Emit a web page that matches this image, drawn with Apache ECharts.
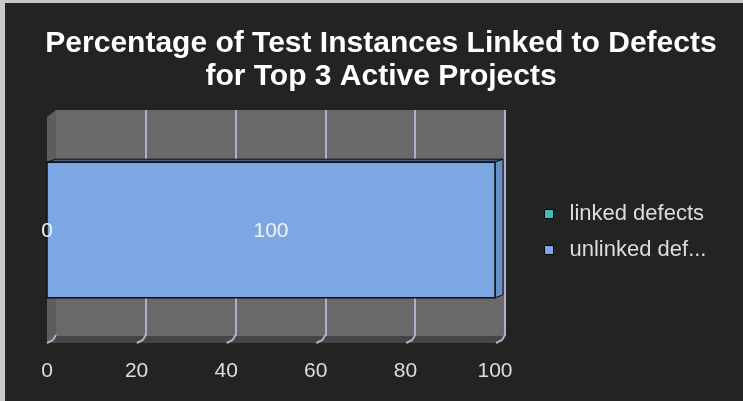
<!DOCTYPE html>
<html>
<head>
<meta charset="utf-8">
<style>
  html, body { margin: 0; padding: 0; background: #222422; }
  #chart { width: 743px; height: 401px; }
</style>
<script src="https://cdn.jsdelivr.net/npm/echarts@6/dist/echarts.min.js"></script>
</head>
<body>
<div id="chart"></div>
<script>
const titleText = 'Percentage of Test Instances Linked to Defects\nfor Top 3 Active Projects';
const categories = ['Top 3 Active Projects'];
const seriesNames = ['linked defects', 'unlinked defects'];
const linked = [0];
const unlinked = [100];
const xTicks = [0, 20, 40, 60, 80, 100];

const colors = ['#3fbfb5', '#7ba7e3'];
const sideColors = ['#339a92', '#6890c4'];
const topColors = ['#2a7a74', '#3d5a85'];
const font = 'Liberation Sans';

// 3D-ish layout: back wall and front plane, offset by depth
const back = { left: 56, top: 110, width: 449, height: 226 };
const depthX = 9, depthY = 7;
const front = { left: back.left - depthX, top: back.top + depthY, width: 448, height: back.height };

// stacked segments built from series values
const stacks = [linked, unlinked];
const segData = stacks.map(() => []);
categories.forEach((c, ci) => {
  let acc = 0;
  stacks.forEach((vals, si) => {
    segData[si].push([acc, acc + vals[ci], ci, vals[ci]]);
    acc += vals[ci];
  });
});

function barItem(si) {
  return function (params, api) {
    const p0 = api.coord([api.value(0), api.value(2)]);
    const p1 = api.coord([api.value(1), api.value(2)]);
    const h = api.size([0, 1])[1] * 0.6;
    const top = p0[1] - h / 2, bottom = p0[1] + h / 2;
    const dx = 8, dy = 3;
    const children = [];
    if (p1[0] - p0[0] > 0) {
      children.push({
        type: 'polygon',
        shape: { points: [[p0[0], top], [p0[0] + dx, top - dy], [p1[0] + dx, top - dy], [p1[0], top]] },
        style: { fill: topColors[si], stroke: '#111', lineWidth: 1 }
      });
      children.push({
        type: 'polygon',
        shape: { points: [[p1[0], top], [p1[0] + dx, top - dy], [p1[0] + dx, bottom - dy], [p1[0], bottom]] },
        style: { fill: sideColors[si], stroke: '#111', lineWidth: 1 }
      });
      children.push({
        type: 'rect',
        shape: { x: p0[0], y: top, width: p1[0] - p0[0], height: h },
        style: { fill: colors[si], stroke: '#111', lineWidth: 1.5 }
      });
    }
    children.push({
      type: 'text',
      z2: 10,
      style: {
        text: String(api.value(3)),
        x: (p0[0] + p1[0]) / 2, y: p0[1] + 1,
        align: 'center', verticalAlign: 'middle',
        fill: '#f2f2f2', fontSize: 21, fontFamily: font
      }
    });
    return { type: 'group', children };
  };
}

const chart = echarts.init(document.getElementById('chart'));

chart.setOption({
  backgroundColor: '#222422',
  animation: false,
  legend: {
    orient: 'vertical',
    left: 539,
    top: 197,
    itemWidth: 9,
    itemHeight: 9,
    itemGap: 12,
    icon: 'rect',
    data: seriesNames,
    formatter: name => name.length > 14 ? name.slice(0, 12) + '...' : name,
    textStyle: { color: '#dddddd', fontSize: 22, lineHeight: 24, fontFamily: font, padding: [0, 0, 0, 11] },
    itemStyle: { borderColor: '#000', borderWidth: 1 }
  },
  grid: [
    Object.assign({ show: true, backgroundColor: '#6b6869', borderWidth: 0 }, back),
    Object.assign({}, front)
  ],
  xAxis: [
    {
      gridIndex: 0, type: 'value', min: 0, max: 100, interval: 20,
      axisLabel: { show: false }, axisLine: { show: false }, axisTick: { show: false },
      splitLine: { show: true, showMinLine: false, lineStyle: { color: '#b4accb', width: 2 } }
    },
    {
      gridIndex: 1, type: 'value', min: 0, max: 100, interval: 20,
      axisLabel: { color: '#dddddd', fontSize: 21, fontFamily: font, margin: 18 },
      axisLine: { show: false }, axisTick: { show: false }, splitLine: { show: false }
    }
  ],
  yAxis: [
    { gridIndex: 0, type: 'category', data: categories, show: false },
    { gridIndex: 1, type: 'category', data: categories, show: false }
  ],
  graphic: [
    { type: 'rect', shape: { x: 0, y: 0, width: 743, height: 3 }, style: { fill: '#c8c8c8' }, z: 1 },
    { type: 'rect', shape: { x: 0, y: 0, width: 5, height: 401 }, style: { fill: '#c8c8c8' }, z: 1 },
    {
      type: 'text', z: 5,
      x: 381, y: 27,
      style: {
        text: titleText, align: 'center', verticalAlign: 'top',
        fill: '#ffffff', fontSize: 30, fontWeight: 'bold', fontFamily: font, lineHeight: 33
      }
    },
    {
      type: 'polygon', z: 0,
      shape: { points: [[front.left, front.top], [back.left, back.top], [back.left, back.top + back.height], [front.left, front.top + front.height]] },
      style: { fill: '#5e5d5d' }
    },
    {
      type: 'polygon', z: 0,
      shape: { points: [[back.left, back.top + back.height], [back.left + back.width, back.top + back.height], [front.left + back.width, front.top + front.height], [front.left, front.top + front.height]] },
      style: { fill: '#454545' }
    }
  ],
  series: [
    {
      type: 'custom',
      name: 'floor ticks',
      xAxisIndex: 0, yAxisIndex: 0,
      silent: true,
      data: xTicks.map(v => [v]),
      renderItem: (params, api) => {
        const p = api.coord([api.value(0), categories[0]]);
        const y = back.top + back.height;
        return {
          type: 'polyline',
          shape: { points: [[p[0], y - 1], [p[0] - 3, y + 4], [p[0] - depthX, y + depthY]] },
          style: { stroke: '#b4accb', lineWidth: 2, fill: null }
        };
      }
    },
    {
      type: 'custom', name: seriesNames[0],
      xAxisIndex: 1, yAxisIndex: 1,
      itemStyle: { color: colors[0] },
      encode: { x: [0, 1], y: 2 },
      data: segData[0],
      renderItem: barItem(0)
    },
    {
      type: 'custom', name: seriesNames[1],
      xAxisIndex: 1, yAxisIndex: 1,
      itemStyle: { color: colors[1] },
      encode: { x: [0, 1], y: 2 },
      data: segData[1],
      renderItem: barItem(1)
    }
  ]
});
</script>
</body>
</html>
